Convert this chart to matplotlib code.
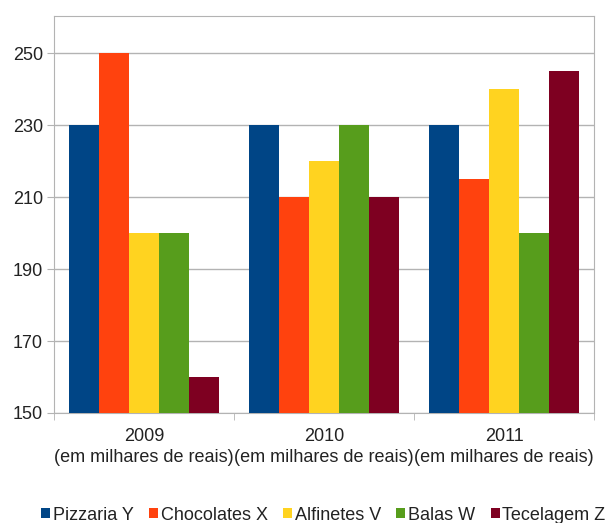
import matplotlib
matplotlib.use("Agg")
import matplotlib.pyplot as plt
import numpy as np

categories = ["2009\n(em milhares de reais)", "2010\n(em milhares de reais)", "2011\n(em milhares de reais)"]
series_names = ["Pizzaria Y", "Chocolates X", "Alfinetes V", "Balas W", "Tecelagem Z"]
pizzaria_y = [230, 230, 230]
chocolates_x = [250, 210, 215]
alfinetes_v = [200, 220, 240]
balas_w = [200, 230, 200]
tecelagem_z = [160, 210, 245]
colors = ["#004586", "#ff420e", "#ffd320", "#579d1c", "#7e0021"]
y_ticks = [150, 170, 190, 210, 230, 250]

plt.rcParams['font.family'] = ['Liberation Sans', 'DejaVu Sans']

fig = plt.figure(figsize=(6.14, 5.23), dpi=100)
ax = fig.add_axes([54/614, 1-413/523, (594-54)/614, (413-16)/523])

all_series = [pizzaria_y, chocolates_x, alfinetes_v, balas_w, tecelagem_z]
x = np.arange(len(categories))
w = 1/6
for i, (name, vals, c) in enumerate(zip(series_names, all_series, colors)):
    ax.bar(x + (i - 2) * w, np.array(vals) - 150, bottom=150, width=w, color=c, label=name, zorder=3)

ax.set_xlim(-0.5, 2.5)
ax.set_ylim(150, 260.3)
ax.set_yticks(y_ticks)
ax.set_xticks(x)
ax.set_xticklabels(categories)
ax.set_xticks([-0.5, 0.5, 1.5, 2.5], minor=True)
gray = "#b3b3b3"
ax.yaxis.grid(True, color=gray, linewidth=1, zorder=0)
for s in ax.spines.values():
    s.set_color(gray)
ax.tick_params(axis='y', direction='out', length=5, color=gray, labelsize=13, labelcolor='#222222', pad=3)
ax.tick_params(axis='x', which='major', length=0, labelsize=13, labelcolor='#222222', pad=11)
ax.tick_params(axis='x', which='minor', length=5, color=gray)
for lab in ax.get_xticklabels():
    lab.set_linespacing(1.25)

fig.legend(loc='center left', bbox_to_anchor=(41/614, 1-515/523), ncol=5, frameon=False,
           fontsize=13, handlelength=0.5, handleheight=0.5, handletextpad=0.15,
           columnspacing=0.85, borderpad=0, borderaxespad=0, labelcolor='#222222')

fig.savefig("out.png", dpi=100)
